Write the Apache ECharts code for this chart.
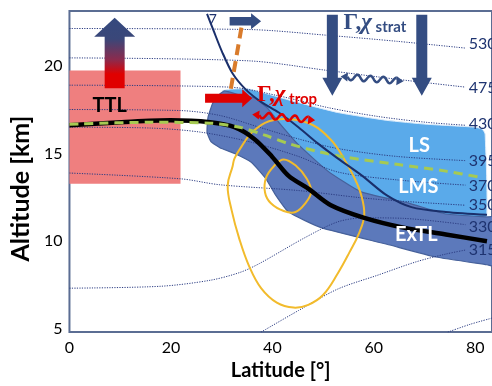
<!DOCTYPE html>
<html><head><meta charset="utf-8">
<script src="https://cdn.jsdelivr.net/npm/echarts@6/dist/echarts.min.js"></script>
<style>html,body{margin:0;padding:0;background:#fff}#c{width:492px;height:386px}</style>
</head><body><div id="c"></div>
<script>
// ---------- data (latitude [deg], altitude [km]) ----------
const xTicks = [0, 20, 40, 60, 80];
const yTicks = [5, 10, 15, 20];

const theta530 = [[0,22.15],[35.45,22.09],[50.94,21.76],[64.5,21.42],[78.06,21.03]];
const theta475 = [[0,20.47],[35.45,20.30],[50.94,19.75],[64.5,19.25],[78.06,18.80]];
const theta430 = [[0,18.91],[31.57,18.80],[41.26,18.30],[50.94,17.63],[60.63,17.13],[70.31,16.79],[78.06,16.62]];
const theta395 = [[0,17.52],[21.89,17.46],[29.64,17.18],[37.39,16.51],[45.13,15.84],[52.88,15.29],[64.5,14.84],[78.06,14.60]];
const theta370 = [[0,16.51],[16.08,16.46],[25.76,16.23],[35.45,15.68],[45.13,14.84],[52.88,13.95],[64.5,13.50],[78.06,13.20]];
const theta350 = [[0,13.89],[21.89,13.56],[29.64,13.22],[45.13,12.89],[56.76,12.50],[64.5,12.30],[78.06,12.05]];
const theta330 = [[0,7.31],[18.01,7.42],[27.7,7.76],[33.51,8.2],[37.39,8.71],[46.49,10.21],[52.88,11.1],[58.11,11.33],[65.86,11.30],[78.06,10.94]];
const theta315 = [[37.77,4.8],[45.13,6.03],[52.88,7.26],[60.63,8.04],[68.38,8.82],[74.19,9.26],[78.06,9.49]];
const theta300 = [[74.58,4.8],[79.03,5.25],[83.3,5.6]];
const thetaLabels = ['530','475','430','395','370','350','330','315'];
const thetaLabelAlt = [21.25,18.74,16.68,14.56,13.17,12.05,10.83,9.49];
const thetaLabelLat = 78.7;

const tropopause = [[0,16.62],[10.27,16.79],[19.95,16.90],[27.7,16.79],[32.54,16.51],[36.42,15.84],[39.9,14.84],[43.2,13.73],[47.07,13.0],[51.53,12.05],[58.11,11.33],[65.86,10.77],[74.19,10.38],[82.3,9.99]];
const greenDashed = [[0,16.68],[16.08,16.79],[27.7,16.74],[33.51,16.51],[38.35,16.07],[43.2,15.57],[49.01,15.12],[54.82,14.78],[64.5,14.39],[74.19,14.0],[81.55,13.61]];
const navyLine = [[27.12,22.98],[28.47,21.98],[30.02,20.86],[32.16,19.58],[34.87,18.63],[37.77,17.96],[41.26,17.35],[45.13,16.51],[49.01,15.57],[52.88,14.73],[57.72,13.73],[62.57,12.61],[67.41,11.94],[74.19,11.66],[82.3,11.50]];
const orangeDashed = [[33.9,22.2],[31.77,18.63]];

const ttlBox = [[0,19.75],[21.89,13.28]];
const lsRegion = [[30.02,18.58],[31.96,18.69],[35.45,18.69],[43.2,18.07],[52.88,17.35],[62.57,16.9],[70.31,16.68],[80.0,16.51],[81.36,16.4],[81.94,16.12],[81.94,10.66],[74.19,11.05],[64.5,11.38],[55.79,12.33],[49.98,13.73],[45.13,15.12],[40.29,16.79],[36.42,17.91],[31.96,18.35]];
const extlRegion = [[30.61,18.58],[33.51,18.35],[36.42,18.19],[38.93,17.63],[41.26,16.79],[45.13,15.51],[50.94,14.0],[57.34,12.83],[67.02,12.16],[74.19,11.55],[82.32,11.38],[83.6,11.38],[83.6,8.59],[82.32,8.65],[72.25,9.09],[62.57,9.82],[49.59,10.77],[43.2,11.66],[40.68,12.61],[38.74,13.56],[35.84,14.51],[32.54,15.01],[29.64,15.34],[27.89,15.68],[27.12,16.23],[27.31,17.07],[28.28,17.91],[29.64,18.41]];
const jetOuter = [[32.16,14.28],[31.19,13.17],[31.96,11.77],[33.51,10.1],[35.45,8.54],[37.77,7.31],[40.87,6.48],[44.17,6.2],[47.07,6.36],[49.98,6.92],[52.88,8.15],[55.21,9.37],[57.14,10.49],[58.11,11.49],[57.53,12.61],[56.17,13.61],[53.85,14.84],[51.53,15.79],[48.04,16.62],[43.58,16.96],[39.32,16.85],[36.03,16.23],[33.9,15.4],[32.54,14.73]];
const jetInner = [[42.23,14.67],[40.29,14.28],[38.74,13.61],[38.55,12.78],[39.71,12.16],[42.23,11.72],[44.55,11.66],[46.49,12.16],[47.65,12.83],[46.68,13.61],[44.75,14.28]];

// arrows: [lat start, alt start, lat tip, alt tip]
const arrowTTL = [8.91,18.74,8.91,22.76];
const arrowTopRight = [31.57,22.56,37.77,22.56];
const arrowTrop = [26.73,18.16,36.03,18.16];
const arrowStratL = [51.82,22.93,51.82,18.30];
const arrowStratR = [69.45,22.93,69.45,18.30];
const waveStrat = [[53.46,19.41],[65.86,19.13]];
const waveTrop = [[36.03,17.24],[48.43,16.90]];

const ttlLabelPos = [7.94,17.74];
const regionNames = ['LS','LMS','ExTL'];
const regionNameLat = [68.96,68.77,68.38];
const regionNameAlt = [15.45,13.11,10.38];
const sevenPos = [28.28,22.65];
const stratTextPos = [54.04,22.48];
const tropTextPos = [36.99,18.35];

// ---------- rendering ----------
const FONT = 'Lato';
const NAVY = '#344d82';
const chart = echarts.init(document.getElementById('c'));

function single(render, z) {
  return {type:'custom', coordinateSystem:'cartesian2d', data:[[40,10]], renderItem:render,
          z:z, silent:true, animation:false, clip:false};
}
function poly(points, style, smooth) {
  return function (params, api) {
    return {type:'polygon', shape:{points:points.map(p => api.coord(p)), smooth:smooth || 0}, style:style};
  };
}
function arrowPts(api, a, w, hw, hl) {
  const p0 = api.coord([a[0],a[1]]), p1 = api.coord([a[2],a[3]]);
  const dx = p1[0]-p0[0], dy = p1[1]-p0[1], L = Math.hypot(dx,dy);
  const ux = dx/L, uy = dy/L, nx = -uy, ny = ux;
  const bx = p1[0]-ux*hl, by = p1[1]-uy*hl;
  return [[p0[0]+nx*w,p0[1]+ny*w],[bx+nx*w,by+ny*w],[bx+nx*hw,by+ny*hw],p1,
          [bx-nx*hw,by-ny*hw],[bx-nx*w,by-ny*w],[p0[0]-nx*w,p0[1]-ny*w]];
}
function arrow(a, w, hw, hl, fill) {
  return function (params, api) {
    return {type:'polygon', shape:{points:arrowPts(api,a,w,hw,hl)}, style:{fill:fill}};
  };
}
function wave(seg, color) {
  return function (params, api) {
    const p0 = api.coord(seg[0]), p1 = api.coord(seg[1]);
    const dx = p1[0]-p0[0], dy = p1[1]-p0[1], L = Math.hypot(dx,dy);
    const ux = dx/L, uy = dy/L, nx = -uy, ny = ux;
    const hl = 7, hw = 4.5, A = 3, period = 13;
    const pts = [];
    const n = 80;
    for (let i = 0; i <= n; i++) {
      const s = hl + (L-2*hl)*i/n;
      const o = A*Math.sin(2*Math.PI*(s-hl)/period);
      pts.push([p0[0]+ux*s+nx*o, p0[1]+uy*s+ny*o]);
    }
    const h1 = [p1, [p1[0]-ux*hl+nx*hw, p1[1]-uy*hl+ny*hw], [p1[0]-ux*hl-nx*hw, p1[1]-uy*hl-ny*hw]];
    const h0 = [p0, [p0[0]+ux*hl+nx*hw, p0[1]+uy*hl+ny*hw], [p0[0]+ux*hl-nx*hw, p0[1]+uy*hl-ny*hw]];
    return {type:'group', children:[
      {type:'polyline', shape:{points:pts}, style:{stroke:color, lineWidth:2.5, fill:null}},
      {type:'polygon', shape:{points:h0}, style:{fill:color}},
      {type:'polygon', shape:{points:h1}, style:{fill:color}}
    ]};
  };
}
function texts(params, api) {
  const kids = [];
  const t = (pos, text, style) => {
    const p = api.coord(pos);
    kids.push({type:'text', x:p[0], y:p[1], style:Object.assign({text:text, align:'center', verticalAlign:'middle'}, style)});
  };
  t(ttlLabelPos, 'TTL', {fill:'#000', fontFamily:FONT, fontWeight:'bold', fontSize:20});
  regionNames.forEach((n,i) => t([regionNameLat[i], regionNameAlt[i]], n, {fill:'#fff', fontFamily:FONT, fontWeight:'bold', fontSize:20}));
  thetaLabels.forEach((n,i) => t([thetaLabelLat, thetaLabelAlt[i]], n, {fill:'#1e3370', fontFamily:FONT, fontSize:16, align:'left'}));
  t(sevenPos, '7', {fill:'#1e3370', fontFamily:FONT, fontSize:14});
  const rich = (col) => ({
    g:{fontFamily:'Liberation Serif', fontWeight:'bold', fontSize:23, fill:col, verticalAlign:'bottom', lineHeight:24},
    c:{fontFamily:'Liberation Serif', fontWeight:'bold', fontStyle:'italic', fontSize:23, fill:col, verticalAlign:'bottom', lineHeight:24},
    s:{fontFamily:FONT, fontWeight:'bold', fontSize:15, fill:col, verticalAlign:'bottom', lineHeight:20}
  });
  t(stratTextPos, '{g|Γ,}{c|χ}{s| strat}', {align:'left', rich:rich(NAVY)});
  t(tropTextPos, '{g|Γ,}{c|χ}{s| trop}', {align:'left', rich:rich('#e00000')});
  return {type:'group', children:kids};
}
function lineSeries(data, style, z, smooth) {
  return {type:'line', data:data, symbol:'none', smooth:smooth === undefined ? 0.3 : smooth,
          lineStyle:style, z:z, silent:true, animation:false};
}

const thetaStyle = {color:'#2b3c82', width:1, type:[1.2,1.3]};
const series = [
  single(function (params, api) {
    const a = api.coord(ttlBox[0]), b = api.coord(ttlBox[1]);
    return {type:'rect', shape:{x:a[0], y:a[1], width:b[0]-a[0], height:b[1]-a[1]}, style:{fill:'#ef7f7f'}};
  }, 1),
  single(poly(lsRegion, {fill:'#5aaaea', stroke:'#dcebfa', lineWidth:1}, 0.15), 2),
  single(poly(extlRegion, {fill:'#5c79bb', stroke:'#46619b', lineWidth:1.2}, 0.15), 3),
  ...[theta530, theta475, theta430, theta395, theta370, theta350, theta330, theta315, theta300]
      .map(d => lineSeries(d, thetaStyle, 4)),
  single(poly(jetOuter, {fill:null, stroke:'#f2bb2c', lineWidth:2}, 0.4), 5),
  single(poly(jetInner, {fill:null, stroke:'#f2bb2c', lineWidth:2}, 0.4), 5),
  lineSeries(tropopause, {color:'#000', width:4.5}, 6),
  lineSeries(greenDashed, {color:'#a6ca52', width:3, type:[9,6]}, 7),
  lineSeries(navyLine, {color:'#1a2f6b', width:2}, 8),
  lineSeries(orangeDashed, {color:'#d97b2b', width:4, type:[11,6]}, 9, false),
  single(function (params, api) {
    return {type:'polygon', shape:{points:arrowPts(api, arrowTTL, 10, 20.5, 19)},
      style:{fill:new echarts.graphic.LinearGradient(0,0,0,1,[
        {offset:0, color:'#34497e'},{offset:0.3, color:'#3a4779'},{offset:0.6, color:'#8d2a4c'},
        {offset:0.8, color:'#e00000'},{offset:1, color:'#e00000'}])}};
  }, 10),
  single(arrow(arrowTopRight, 4.2, 8, 10, NAVY), 10),
  single(arrow(arrowTrop, 4.5, 9, 10, '#e00000'), 10),
  single(arrow(arrowStratL, 5.5, 10, 18, NAVY), 10),
  single(arrow(arrowStratR, 5.5, 10, 18, NAVY), 10),
  single(wave(waveStrat, NAVY), 10),
  single(wave(waveTrop, '#e00000'), 10),
  single(texts, 11)
];

chart.setOption({
  animation:false,
  grid:{left:67, top:11, right:-5, bottom:46, show:true, borderColor:'#5b6d93', borderWidth:2, backgroundColor:'transparent'},
  xAxis:{type:'value', min:0, max:83.29, interval:20,
    axisLine:{show:false}, axisTick:{show:false}, splitLine:{show:false},
    axisLabel:{color:'#000', fontFamily:FONT, fontSize:16, margin:8, customValues:xTicks},
    name:'Latitude [°]', nameLocation:'middle', nameGap:27,
    nameTextStyle:{color:'#000', fontFamily:FONT, fontWeight:'bold', fontSize:20}},
  yAxis:{type:'value', min:4.8, max:23.15,
    axisLine:{show:false}, axisTick:{show:false}, splitLine:{show:false},
    axisLabel:{color:'#000', fontFamily:FONT, fontSize:16, margin:7, customValues:yTicks},
    name:'Altitude [km]', nameLocation:'middle', nameGap:34,
    nameTextStyle:{color:'#000', fontFamily:FONT, fontWeight:'bold', fontSize:25, padding:[0,34,0,0]}},
  series:series
});
</script></body></html>
